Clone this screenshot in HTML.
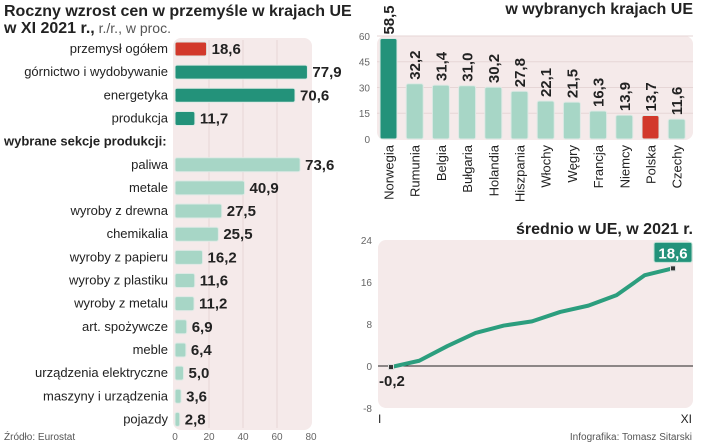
<!DOCTYPE html>
<html><head><meta charset="utf-8"><style>
body{margin:0;background:#fff;width:720px;height:443px;overflow:hidden}
svg{display:block;font-family:"Liberation Sans",sans-serif}
.v{font-weight:bold;font-size:15px;fill:#222}
.l{font-size:13px;fill:#222}
.t{font-size:10px;fill:#666}
</style></head><body>
<svg id="s" width="720" height="443">
<text x="4" y="16" font-size="16" font-weight="bold" fill="#222">Roczny wzrost cen w przemyśle w krajach UE</text>
<text x="4" y="33" font-size="16" font-weight="bold" fill="#222">w XI 2021 r.,<tspan font-weight="normal" font-size="14" fill="#555"> r./r., w proc.</tspan></text>
<rect x="173" y="38" width="139" height="392" rx="8" fill="#f5eaea"/>
<text x="693" y="14" font-size="16" font-weight="bold" fill="#222" text-anchor="end">w wybranych krajach UE</text>
<rect x="377" y="36" width="316" height="104" rx="8" fill="#f5eaea"/>
<text x="693" y="234" font-size="16" font-weight="bold" fill="#222" text-anchor="end">średnio w UE, w 2021 r.</text>
<rect x="378" y="240" width="315" height="168" rx="8" fill="#f5eaea"/>
<text x="4" y="440" font-size="10" fill="#555">Źródło: Eurostat</text>
<text x="692" y="440" font-size="10" fill="#555" text-anchor="end">Infografika: Tomasz Sitarski</text>
<g id="left"></g><g id="right"></g><g id="line"></g>
</svg>
<script>
const hCats=["przemysł ogółem","górnictwo i wydobywanie","energetyka","produkcja","wybrane sekcje produkcji:","paliwa","metale","wyroby z drewna","chemikalia","wyroby z papieru","wyroby z plastiku","wyroby z metalu","art. spożywcze","meble","urządzenia elektryczne","maszyny i urządzenia","pojazdy"];
const hVals=[18.6,77.9,70.6,11.7,null,73.6,40.9,27.5,25.5,16.2,11.6,11.2,6.9,6.4,5.0,3.6,2.8];
const hTicks=[0,20,40,60,80];
const cCats=["Norwegia","Rumunia","Belgia","Bułgaria","Holandia","Hiszpania","Włochy","Węgry","Francja","Niemcy","Polska","Czechy"];
const cVals=[58.5,32.2,31.4,31.0,30.2,27.8,22.1,21.5,16.3,13.9,13.7,11.6];
const cTicks=[0,15,30,45,60];
const mLabels=["I","II","III","IV","V","VI","VII","VIII","IX","X","XI"];
const mVals=[-0.2,1.0,3.8,6.3,7.7,8.5,10.3,11.5,13.5,17.3,18.6];
const lTicks=[-8,0,8,16,24];
const NS="http://www.w3.org/2000/svg";
function mk(p,tag,a,txt){const e=document.createElementNS(NS,tag);for(const k in a)e.setAttribute(k,a[k]);if(txt!=null)e.textContent=txt;p.appendChild(e);return e;}
const fmt=v=>v.toFixed(1).replace('.',',');
const L=document.getElementById('left');
const hx=v=>175+v*1.70, hy=i=>49+i*23.15;
hTicks.forEach(t=>{if(t>0&&t<80){const g=mk(L,'line',{x1:hx(t),x2:hx(t),y1:40,y2:428,stroke:'#e6d6d6'});}
 const e=mk(L,'text',{x:hx(t),y:440,'text-anchor':'middle',class:'t'},t);});
hCats.forEach((c,i)=>{const y=hy(i);const v=hVals[i];
 if(v===null){const e=mk(L,'text',{x:4,y:y+4,'font-size':13,'font-weight':'bold',fill:'#222'},c);return;}
 const e=mk(L,'text',{x:168,y:y+4,'text-anchor':'end',class:'l'},c);
 const col=i===0?'#d2392b':(i<4?'#23927a':'#a7d6c6');
 const r=mk(L,'rect',{x:175,y:y-7,width:Math.max(hx(v)-175,2),height:14,rx:2,fill:col,stroke:'#dfe9e5','stroke-width':1});
 const t=mk(L,'text',{x:hx(v)+5,y:y+5,class:'v'},fmt(v));});
const R=document.getElementById('right');
const cx=i=>380+i*26.2, cy=v=>139-v*1.717;
cTicks.forEach(t=>{if(t>0){const g=mk(R,'line',{x1:377,x2:693,y1:cy(t),y2:cy(t),stroke:'#e6d6d6'});}
 const e=mk(R,'text',{x:370,y:cy(t)+4,'text-anchor':'end',class:'t'},t);});
cCats.forEach((c,i)=>{const v=cVals[i];const x=cx(i);
 const col=i===0?'#23927a':(c==='Polska'?'#d2392b':'#a7d6c6');
 const r=mk(R,'rect',{x:x,y:cy(v),width:17,height:139-cy(v),rx:2,fill:col,stroke:'#dfe9e5'});
 const t=mk(R,'text',{x:0,y:0,class:'v',transform:`translate(${x+14},${cy(v)-4}) rotate(-90)`},fmt(v));
 const l=mk(R,'text',{x:0,y:0,class:'l','text-anchor':'end',transform:`translate(${x+13.5},${145}) rotate(-90)`},c);});
const N=document.getElementById('line');
const lx=i=>391+i*28.2, ly=v=>366-v*5.25;
lTicks.forEach(t=>{const e=mk(N,'text',{x:372,y:ly(t)+4,'text-anchor':'end',class:'t'},t);});
const z=mk(N,'line',{x1:378,x2:693,y1:ly(0),y2:ly(0),stroke:'#222','stroke-width':1});
const p=mk(N,'polyline',{points:mVals.map((v,i)=>lx(i)+','+ly(v)).join(' '),fill:'none',stroke:'#2c9e7e','stroke-width':4,'stroke-linejoin':'round'});
[0,mVals.length-1].forEach(i=>{const m=mk(N,'rect',{x:lx(i)-2.5,y:ly(mVals[i])-2.5,width:5,height:5,fill:'#333',stroke:'#ddd'});});
const fl=mk(N,'text',{x:379,y:ly(mVals[0])+19,class:'v'},fmt(mVals[0]));
const last=mVals.length-1;
const bx=mk(N,'rect',{x:654,y:ly(mVals[last])-26,width:38,height:20,rx:2,fill:'#23927a',stroke:'#bfe0d4'});
const bt=mk(N,'text',{x:673,y:ly(mVals[last])-10,class:'v','text-anchor':'middle',style:'fill:#fff'},fmt(mVals[last]));
[[0,'start'],[last,'end']].forEach(([i,a])=>{const e=mk(N,'text',{x:i===0?378:692,y:423,'text-anchor':a,'font-size':12,fill:'#222'},mLabels[i]);});
</script>
</body></html>
